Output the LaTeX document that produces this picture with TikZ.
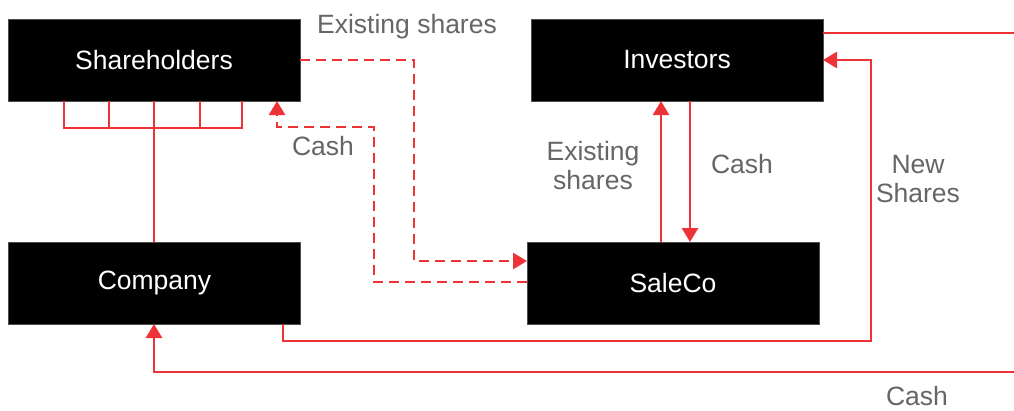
\documentclass[tikz,border=0pt]{standalone}
\usepackage{fontspec}
\setmainfont{Liberation Sans}
\usetikzlibrary{arrows.meta}
\definecolor{flow}{HTML}{EE3338}
\definecolor{lbl}{HTML}{666666}
\tikzset{
  box/.style={draw=black!70, line width=0.6pt, fill=black, text=white, minimum width=292pt, minimum height=82pt, inner sep=0pt, outer sep=0pt, font=\fontsize{26.5}{29}\selectfont},
  flowline/.style={draw=flow, line width=2.8pt},
  dashflow/.style={flowline, dash pattern=on 10pt off 6pt},
  tip/.style={-{Triangle[width=16pt,length=14pt]}},
  lab/.style={text=lbl, font=\fontsize{26.5}{29}\selectfont, align=center, inner sep=0pt}
}
\begin{document}
\begin{tikzpicture}[x=1pt,y=-1pt]
\useasboundingbox (0,0) rectangle (1014,410);
\fill[white] (0,0) rectangle (1014,410);
\node[box] (sh) at (154,60) {Shareholders};
\node[box] (inv) at (677,60) {Investors};
\node[box] (co) at (154.5,283) {Company};
\node[box] (sc) at (673,283) {SaleCo};
\coordinate (rt1) at (1014,33);
\coordinate (rt2) at (1014,372);
% bracket
\draw[flowline] (sh.south -| 64,0) -- (64,128) -- (242,128) -- (sh.south -| 242,0);
\draw[flowline] (sh.south -| 109,0) -- (109,128);
\draw[flowline] (sh.south -| 200,0) -- (200,128);
\draw[flowline] (sh.south) -- (sh.south |- co.north);
% dashed flows
\draw[dashflow, tip] (sh.east) -| (414,261) -- (sc.west |- 414,261);
\draw[dashflow, tip] (sc.west |- 0,282) -- (374,282) |- (277,127) -- (sh.south -| 277,0);
% investors <-> saleco
\draw[flowline, tip] (sc.north -| 661,0) -- (inv.south -| 661,0);
\draw[flowline, tip] (inv.south -| 690,0) -- (sc.north -| 690,0);
% new shares
\draw[flowline, tip] (co.south -| 283,0) |- (871,341) |- (inv.east);
% cash
\draw[flowline] (inv.east |- rt1) -- (rt1);
\draw[flowline, tip] (rt2) -| (co.south -| 154,0);
% labels
\node[lab, anchor=base] (l1) at (407,33) {Existing shares};
\node[lab, anchor=base] (l2) at (323,155) {Cash};
\node[lab] (l3) at (593,166) {Existing\\shares};
\node[lab, anchor=base] (l4) at (742,173) {Cash};
\node[lab] (l5) at (918,179) {New\\Shares};
\node[lab, anchor=base] (l6) at (917,405) {Cash};
\end{tikzpicture}
\end{document}
